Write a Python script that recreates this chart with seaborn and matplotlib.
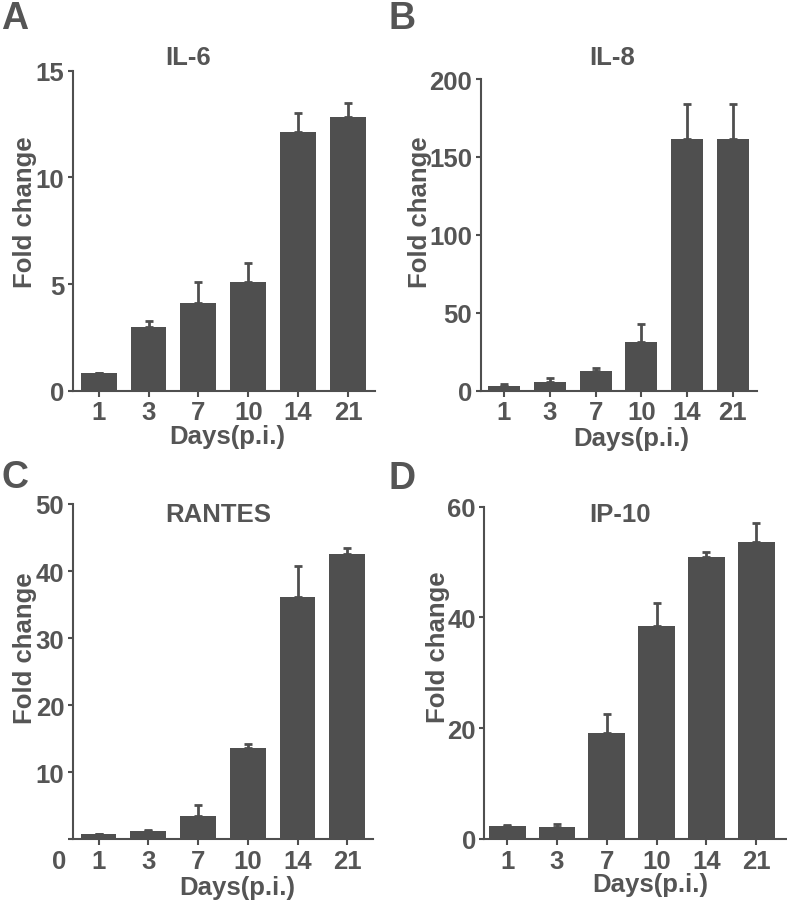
import numpy as np
import pandas as pd
import matplotlib
matplotlib.use("Agg")
import matplotlib.pyplot as plt
import seaborn as sns

# ---- data ----
days = ["1", "3", "7", "10", "14", "21"]

il6_mean = [0.83, 2.97, 4.11, 5.11, 12.11, 12.84]
il6_sem = [0.02, 0.31, 0.97, 0.86, 0.89, 0.63]

il8_mean = [3.2, 5.4, 12.8, 31.0, 161.5, 161.5]
il8_sem = [1.1, 2.6, 1.6, 11.8, 22.5, 22.5]

rantes_mean = [0.8, 1.3, 3.5, 13.6, 36.1, 42.6]
rantes_sem = [0.05, 0.05, 1.7, 0.6, 4.6, 0.9]

ip10_mean = [2.4, 2.1, 19.1, 38.5, 51.0, 53.6]
ip10_sem = [0.2, 0.6, 3.5, 4.1, 0.8, 3.4]

titles = ["IL-6", "IL-8", "RANTES", "IP-10"]
letters = ["A", "B", "C", "D"]
yticks_list = [[0, 5, 10, 15], [0, 50, 100, 150, 200],
               [0, 10, 20, 30, 40, 50], [0, 20, 40, 60]]
xlabel = "Days(p.i.)"
ylabel = "Fold change"

sns.set_theme(style="ticks")
plt.rcParams['font.family'] = ['Liberation Sans', 'DejaVu Sans']
plt.rcParams['font.weight'] = 'bold'

COL = "#4f4f4f"
TXT = "#555555"
W, H = 787, 903
fig = plt.figure(figsize=(W / 100, H / 100), dpi=100)

# axes geometry in pixels: left, right, top, bottom
geom = [(72.7, 375.0, 71.7, 391.7),
        (480.7, 756.7, 80.0, 391.7),
        (72.7, 372.7, 505.0, 840.4),
        (484.3, 786.0, 507.7, 840.0)]
xlims = [(-0.52, 5.54), (-0.51, 5.52), (-0.52, 5.51), (-0.46, 5.60)]
widths = [0.72, 0.70, 0.72, 0.74]
title_pos = [(0.381, 1.043), (0.475, 1.071), (0.484, 0.970), (0.45, 0.977)]
ylab_pos = [(-0.118, 0.562), (-0.178, 0.577), (-0.118, 0.574), (-0.115, 0.581)]
xlab_pos = [(0.51, -0.105), (0.547, -0.112), (0.547, -0.105), (0.549, -0.1)]
letter_pos = [(15, 29), (402, 29), (15, 488), (402, 489)]

means = [il6_mean, il8_mean, rantes_mean, ip10_mean]
sems = [il6_sem, il8_sem, rantes_sem, ip10_sem]

FS = 18.5
for i in range(4):
    l, r, t, b = geom[i]
    ax = fig.add_axes([l / W, 1 - b / H, (r - l) / W, (b - t) / H])
    df = pd.DataFrame({"day": days, "val": means[i]})
    sns.barplot(data=df, x="day", y="val", order=days, color=COL,
                saturation=1, width=widths[i], errorbar=None, ax=ax,
                edgecolor="none")
    pos = np.arange(len(days))
    ax.errorbar(pos, means[i], yerr=[np.zeros(len(days)), sems[i]],
                fmt="none", ecolor=COL, elinewidth=2.0, capsize=3,
                capthick=2.0, zorder=1)
    yt = yticks_list[i]
    ax.set_ylim(yt[0], yt[-1])
    ax.set_xlim(*xlims[i])
    ax.set_yticks(yt)
    if i == 2:
        ax.set_yticklabels([""] + [str(v) for v in yt[1:]])
        ax.text(-0.022, -0.063, "0", transform=ax.transAxes, ha="right",
                va="center", fontsize=FS, color=TXT, fontweight="bold")
    else:
        ax.set_yticklabels([str(v) for v in yt])
    ax.set_xticks(pos)
    ax.set_xticklabels(days)
    sns.despine(ax=ax)
    for s in ["left", "bottom"]:
        ax.spines[s].set_linewidth(1.5)
        ax.spines[s].set_color(COL)
    ax.tick_params(axis="y", length=3.6, width=1.5, color=COL, pad=2.5,
                   labelsize=FS, labelcolor=TXT)
    ax.tick_params(axis="x", length=4.5, width=1.5, color=COL, pad=2.5,
                   labelsize=FS, labelcolor=TXT)
    for lab in ax.get_xticklabels() + ax.get_yticklabels():
        lab.set_fontweight("bold")
    ax.set_ylabel(ylabel, fontsize=FS, color=TXT, fontweight="bold")
    ax.yaxis.set_label_coords(*ylab_pos[i])
    ax.set_xlabel(xlabel, fontsize=FS, color=TXT, fontweight="bold")
    ax.xaxis.set_label_coords(*xlab_pos[i])
    ax.text(title_pos[i][0], title_pos[i][1], titles[i], transform=ax.transAxes,
            ha="center", va="center", fontsize=18.5, color=TXT, fontweight="bold")
    ax.set_facecolor("none")
    fig.text(letter_pos[i][0] / W, 1 - letter_pos[i][1] / H, letters[i],
             ha="center", va="baseline", fontsize=27, color=TXT, fontweight="bold")

fig.savefig("out.png", dpi=100)
